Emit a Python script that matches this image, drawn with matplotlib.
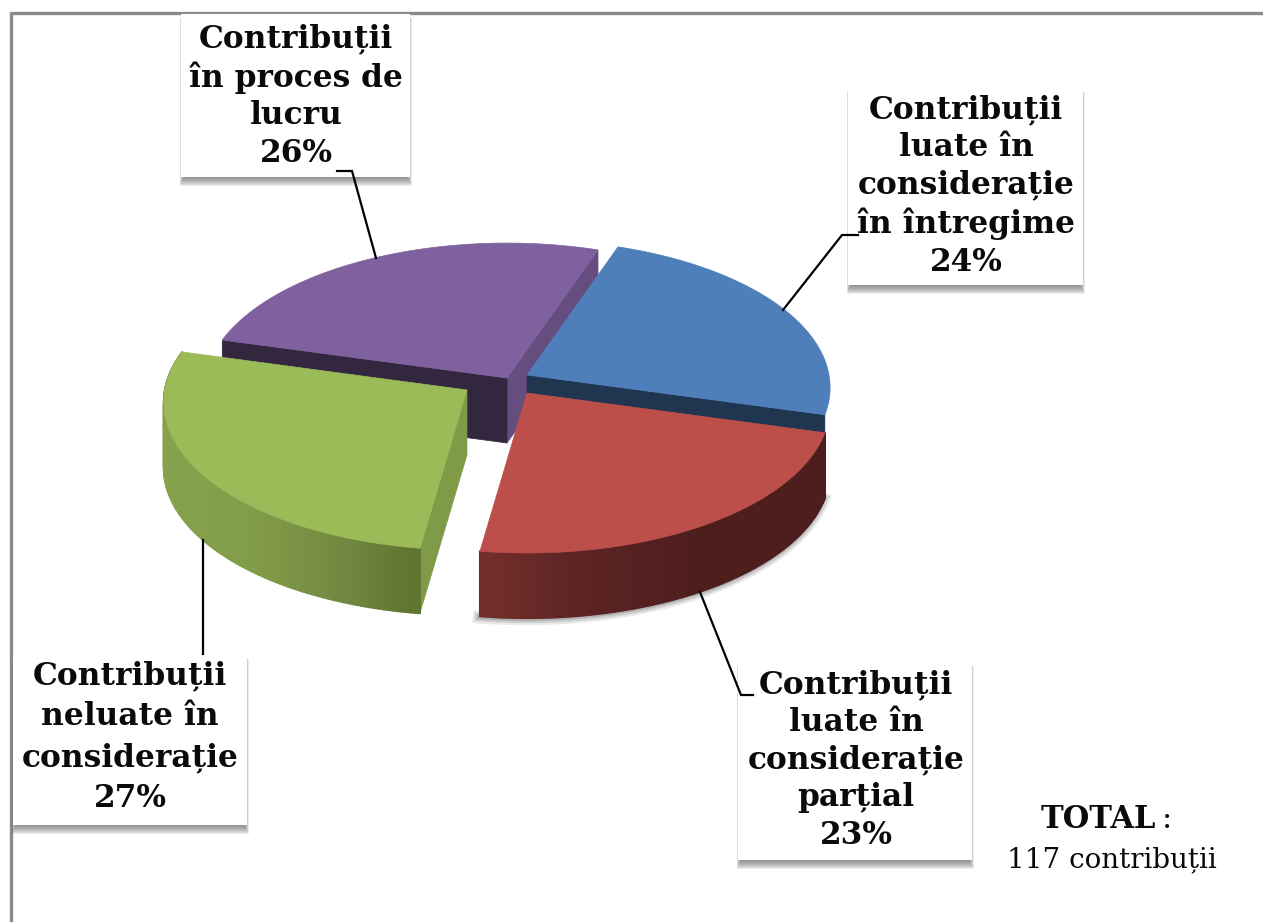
import numpy as np
import matplotlib
matplotlib.use("Agg")
import matplotlib.pyplot as plt
from matplotlib.collections import PolyCollection
from matplotlib.patches import Polygon, Rectangle

# ===============================
# Data
# ===============================
categories = [
    "Contribuții\nluate în\nconsiderație\nîn întregime",
    "Contribuții\nluate în\nconsiderație\nparțial",
    "Contribuții\nneluate în\nconsiderație",
    "Contribuții\nîn proces de\nlucru",
]
percents = [24, 23, 27, 26]
total_label = "TOTAL"
total_text = "117 contribuții"

# ===============================
# Styles and layout (pixels of the picture)
# ===============================
top_colors = ["#4f7fbb", "#bd4f4b", "#9bbb59", "#7f619f"]
cut_colors = ["#1f3550", "#4f1f1e", "#7f9b48", "#33263f"]
side_colors = ["#664d80"]
apex = [(527, 375), (527, 393), (467, 390), (507, 378)]
boxes = [(848, 88, 1083, 285), (738, 662, 972, 860), (13, 655, 247, 825), (181, 14, 410, 177)]
text_pos = [(966, 186), (856, 760), (130, 737), (296, 96)]
line_gaps = [1.28, 1.28, 1.42, 1.28]
leaders = [
    ([783, 842, 858], [310, 235, 235]),
    ([700, 741, 753], [592, 695, 695]),
    ([203, 203], [540, 654]),
    ([376, 352, 337], [258, 171, 171]),
]
START = 19
RADIUS = 302
B_MID = 146.4
PERSP = 0.085
DEPTH = 65


def arc_points(cx, cy, a0, a1, n=120):
    # circle seen in perspective, the near side comes out larger
    th = np.radians(np.linspace(a0, a1, n))
    s, c = np.sin(th), np.cos(th)
    f = 1 + PERSP * c
    return np.column_stack([cx + RADIUS * s / f, cy - B_MID * c / f])


def draw_wall(ax, pts, x_stops, stop_colors, depth=DEPTH, zorder=2):
    rgb = np.array([matplotlib.colors.to_rgb(c) for c in stop_colors])
    quads, cols = [], []
    for p, q in zip(pts[:-1], pts[1:]):
        quads.append([p, q, q + [0, depth], p + [0, depth]])
        mx = (p[0] + q[0]) / 2
        cols.append([np.interp(mx, x_stops, rgb[:, i]) for i in range(3)])
    ax.add_collection(PolyCollection(quads, facecolors=cols, edgecolors=cols, linewidths=1.5, zorder=zorder))


def draw_cut(ax, a, b, color, depth=DEPTH, zorder=2):
    a, b = np.array(a, float), np.array(b, float)
    ax.add_patch(Polygon([a, b, b + [0, depth], a + [0, depth]], fc=color, ec=color, lw=0.5, zorder=zorder))


def draw_box(ax, box, text, pct, pos, gap):
    x0, y0, x1, y1 = box
    # soft shadow, mostly under the box
    for i in range(9):
        ax.add_patch(Rectangle((x0 - 1.5 + i * 0.5, y0 + 4), x1 - x0 + 3 - i, y1 - y0 + 5 - i,
                               fc="#555555", ec="none", alpha=0.1, zorder=5))
    ax.add_patch(Rectangle((x0, y0), x1 - x0, y1 - y0, fc="white", ec="none", zorder=6))
    ax.text(pos[0], pos[1], f"{text}\n{pct}%", ha="center", va="center", family="DejaVu Serif",
            fontweight="bold", fontsize=22.5, linespacing=gap, color="#0a0a0a", zorder=8)


# ===============================
# Figure
# ===============================
fig = plt.figure(figsize=(12.63, 9.22), dpi=100)
ax = fig.add_axes([0, 0, 1, 1])
ax.set_xlim(0, 1263)
ax.set_ylim(922, 0)
ax.axis("off")

# frame of the picture, top and left only
ax.plot([10.5, 10.5, 1263], [922, 13.5, 13.5], color="#8a8a8a", lw=2.4, zorder=1)

# ===============================
# Pie slices, back to front
# ===============================
edges = START + np.cumsum([0] + percents) * 3.6
arcs = [arc_points(apex[i][0], apex[i][1], edges[i], edges[i + 1]) for i in range(4)]

# purple slice
draw_cut(ax, apex[3], arcs[3][-1], side_colors[0], zorder=2)
draw_cut(ax, arcs[3][0], apex[3], cut_colors[3], zorder=2)
ax.add_patch(Polygon(np.vstack([apex[3], arcs[3]]), fc=top_colors[3], ec=top_colors[3], lw=0.5, zorder=3))

# blue slice
draw_cut(ax, apex[0], arcs[0][-1], cut_colors[0], zorder=3)
ax.add_patch(Polygon(np.vstack([apex[0], arcs[0]]), fc=top_colors[0], ec=top_colors[0], lw=0.5, zorder=3.1))

# red slice, with a soft shadow under its wall
red_low = arcs[1] + [0, DEPTH]
for w, a in zip([9, 6, 3], [0.12, 0.18, 0.25]):
    ax.plot(red_low[:, 0] - 1, red_low[:, 1] + 1, color="#555555", lw=w, alpha=a, zorder=3.2)
draw_wall(ax, arcs[1], [476, 570, 690, 825], ["#752f2b", "#5e2524", "#4e1e1d", "#4e1e1e"], zorder=3.3)
ax.add_patch(Polygon(np.vstack([apex[1], arcs[1]]), fc=top_colors[1], ec=top_colors[1], lw=0.5, zorder=3.4))

# green slice
draw_cut(ax, apex[2], arcs[2][0], cut_colors[2], zorder=3.5)
draw_wall(ax, arcs[2], [165, 250, 330, 412], ["#87a24e", "#829d4a", "#748c42", "#5f7530"], zorder=3.6)
ax.add_patch(Polygon(np.vstack([apex[2], arcs[2]]), fc=top_colors[2], ec=top_colors[2], lw=0.5, zorder=3.7))

# ===============================
# Labels
# ===============================
for i in range(4):
    draw_box(ax, boxes[i], categories[i], percents[i], text_pos[i], line_gaps[i])
    ax.plot(leaders[i][0], leaders[i][1], color="black", lw=1.6, zorder=7, solid_joinstyle="miter")

ax.text(1098, 819, total_label, ha="center", va="center", family="DejaVu Serif", fontweight="bold",
        fontsize=22, color="#0a0a0a")
ax.text(1167, 819, ":", ha="center", va="center", family="DejaVu Serif", fontsize=22, color="#0a0a0a")
ax.text(1112, 860, total_text, ha="center", va="center", family="DejaVu Serif", fontsize=20, color="#0a0a0a")

fig.savefig("out.png", dpi=100)
